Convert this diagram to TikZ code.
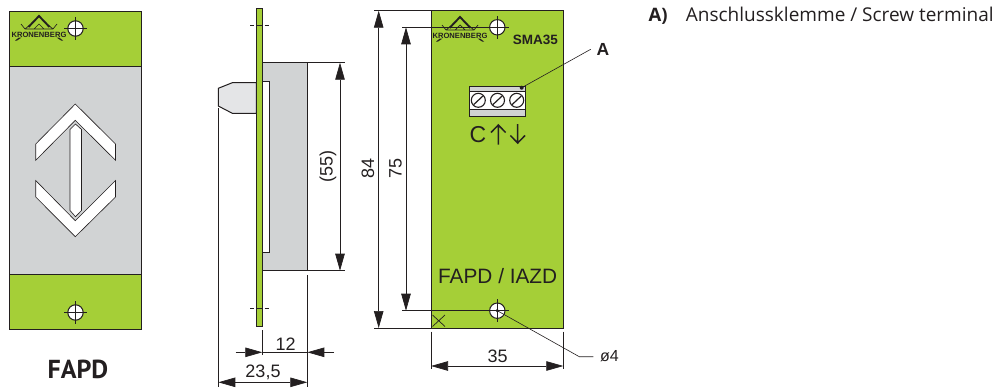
\documentclass[tikz,border=0pt]{standalone}
\usepackage{fontspec}
\setmainfont{Liberation Sans}
\newfontfamily\myr{PT Sans}
\newfontfamily\leg{Open Sans}
\usetikzlibrary{arrows.meta}
\definecolor{pgreen}{RGB}{165,207,55}
\definecolor{pgray}{RGB}{209,211,212}
\definecolor{knobg}{RGB}{228,229,231}
\definecolor{ink}{RGB}{35,31,32}
\tikzset{
 x=1pt,y=-1pt,
 outl/.style={draw=ink,line width=1pt},
 thin line/.style={draw=ink,line width=0.6pt},
 dimline/.style={draw=ink,line width=0.7pt},
 dimarr/.style={draw=ink,line width=0.7pt,{Triangle[length=17pt,width=9.5pt]}-{Triangle[length=17pt,width=9.5pt]}},
 onearr/.style={draw=ink,line width=0.7pt,-{Triangle[length=17pt,width=9.5pt]}},
 dimtxt/.style={font=\fontsize{18}{18}\selectfont,text=ink,inner sep=0pt},
 lbl/.style={text=ink,inner sep=0pt},
}
\newcommand{\holemark}[2]{%
 \draw[outl,fill=white] (#1,#2) circle (7.7);
 \draw[thin line] (#1-11.5,#2) -- (#1+11.5,#2) (#1,#2-11.5) -- (#1,#2+11.5);}
\newcommand{\logomark}[2]{%
 \begin{scope}[shift={(#1,#2)}]
 \draw[ink,line width=1.9pt] (-10.5,1) -- (0,-10) -- (10.5,1);
 \draw[ink,line width=0.7pt] (-18,-2) -- (-14,3) -- (-8,-2) (18,-2) -- (14,3) -- (8,-2) (-14,3) -- (14,3) (-5,3) -- (0,-2) -- (5,3);
 \fill[ink] (-24,14.5) -- (-20,11.5) -- (-17.5,11.5) -- (-22,14.5) -- cycle (24,14.5) -- (20,11.5) -- (17.5,11.5) -- (22,14.5) -- cycle;
 \node[lbl,font=\fontsize{7.6}{7.6}\selectfont\bfseries] at (0,9) {KRONENBERG};
 \end{scope}}
\begin{document}
\begin{tikzpicture}
\useasboundingbox (0,0) rectangle (996,388);
% left panel
\path[fill=pgray] (9,66) rectangle (141.7,274.3);
\path[outl,fill=pgreen] (9,11.7) rectangle (141.7,66);
\path[outl,fill=pgreen] (9,274.3) rectangle (141.7,329);
\draw[outl] (9,66) -- (9,274.3) (141.7,66) -- (141.7,274.3);
\logomark{39}{26}
\holemark{75.5}{28.5}
\holemark{75.5}{312.5}
\path[thin line,fill=white] (75.3,104) -- (115.5,144) -- (115.5,160.3) -- (75.3,120.3) -- (35.7,160.3) -- (35.7,144) -- cycle;
\path[thin line,fill=white] (75.3,236.7) -- (115.5,197) -- (115.5,180.5) -- (75.3,220.7) -- (35.7,180.5) -- (35.7,197) -- cycle;
\path[thin line,fill=white] (75.5,124) -- (81.5,129.5) -- (81.5,210.5) -- (75.5,216.7) -- (70,210.5) -- (70,129.5) -- cycle;
\node[lbl,font=\myr\bfseries\fontsize{26}{26}\selectfont] (fapd) at (78,369) {FAPD};
% side view
\path[outl,fill=pgray] (262.3,62.7) rectangle (307.3,270.7);
\path[outl,fill=white] (262.3,81.7) rectangle (269.3,252);
\path[outl,fill=knobg] (256.3,82.7) -- (232.3,82.7) -- (218.3,88.3) -- (218.3,106) -- (232.3,113.3) -- (256.3,113.3) -- cycle;
\path[outl,fill=pgreen] (256.5,8) rectangle (262.3,326);
\draw[thin line] (250,25) -- (254,25) (256.5,25) -- (262.3,25) (264.5,25) -- (269,25);
\draw[thin line] (250,308.7) -- (254,308.7) (256.5,308.7) -- (262.3,308.7) (264.5,308.7) -- (269,308.7);
\draw[dimline] (218.3,108) -- (218.3,386.5);
\draw[dimline] (262.3,330) -- (262.3,355);
\draw[dimline] (307.3,275) -- (307.3,386.5);
\draw[dimline] (307.3,62.7) -- (345,62.7) (307.3,270.7) -- (345,270.7);
\draw[dimarr] (340,62.7) -- (340,270.7);
\node[dimtxt,rotate=90] at (328,166.5) {(55)};
\draw[onearr] (235.7,352.3) -- (262.3,352.3);
\draw[onearr] (334,352.3) -- (307.3,352.3);
\draw[dimline] (262.3,352.3) -- (307.3,352.3);
\node[dimtxt] at (285.7,344) {12};
\draw[dimarr] (218.3,382.3) -- (307.3,382.3);
\node[dimtxt] at (263,372) {23,5};
% front view
\path[outl,fill=pgreen] (431,10.7) rectangle (563.3,328);
\draw[dimline] (374,10.7) -- (431,10.7) (374,328) -- (431,328);
\draw[dimarr] (378.7,10.7) -- (378.7,328);
\node[dimtxt,rotate=90] at (368,168) {84};
\draw[dimline] (402,27.3) -- (486,27.3) (402,310.7) -- (486,310.7);
\draw[dimarr] (406,27.3) -- (406,310.7);
\node[dimtxt,rotate=90] at (395.5,168) {75};
\logomark{460}{27}
\holemark{497.3}{27.3}
\holemark{497.3}{310.7}
\fill[ink] (497.3,310.7) circle (1.8);
\node[lbl,font=\fontsize{13.5}{13.5}\selectfont\bfseries] at (535.3,40) {SMA35};
\node[lbl,font=\fontsize{20.8}{20.8}\selectfont] at (497.7,275.7) {FAPD / IAZD};
\draw[dimline] (432.5,315) -- (445,326.5) (445,315) -- (432.5,326.5);
% terminal
\path[outl,fill=pgray] (469,86) rectangle (525.7,116.7);
\path[fill=white] (469.5,91) rectangle (525.2,109);
\draw[outl] (469,91) -- (525.7,91) (469,109.5) -- (525.7,109.5);
\foreach \sx in {478.3,497.5,516.7}{
 \draw[ink,line width=1.1pt,fill=white] (\sx,100.3) circle (7);
 \draw[ink,line width=1.2pt] (\sx-4.6,104.6) -- (\sx+4.6,96);
}
\coordinate (termA) at (521.7,87.7);
\fill[ink] (termA) circle (2);
\coordinate (aend) at (590.7,49.3);
\draw[thin line] (termA) -- (aend);
\node[lbl,font=\fontsize{17.5}{17.5}\selectfont\bfseries] at (603,49) {A};
\node[lbl,font=\fontsize{23}{23}\selectfont] at (478,134.3) {C};
\draw[ink,line width=1.5pt] (498.3,144.5) -- (498.3,125) (491,132.5) -- (498.3,125) -- (505.6,132.5);
\draw[ink,line width=1.5pt] (517.7,124) -- (517.7,143) (510.4,135.5) -- (517.7,143) -- (525,135.5);
% 35
\draw[dimline] (431,331.5) -- (431,369) (563.3,331.5) -- (563.3,369);
\draw[dimarr] (431,366) -- (563.3,366);
\node[dimtxt] at (497.7,356.7) {35};
\draw[thin line] (497.3,310.7) -- (579.3,356.7) -- (593.3,356.7);
\node[lbl,font=\fontsize{16}{16}\selectfont,anchor=west] at (600,356.3) {ø4};
% legend
\node[lbl,anchor=base west,font=\leg\bfseries\fontsize{18.5}{18.5}\selectfont] (la) at (648.3,21.7) {A)};
\node[lbl,anchor=base west,font=\leg\fontsize{19}{19}\selectfont] (lb) at (685.7,21.7) {Anschlussklemme / Screw terminal};
\end{tikzpicture}
\end{document}
